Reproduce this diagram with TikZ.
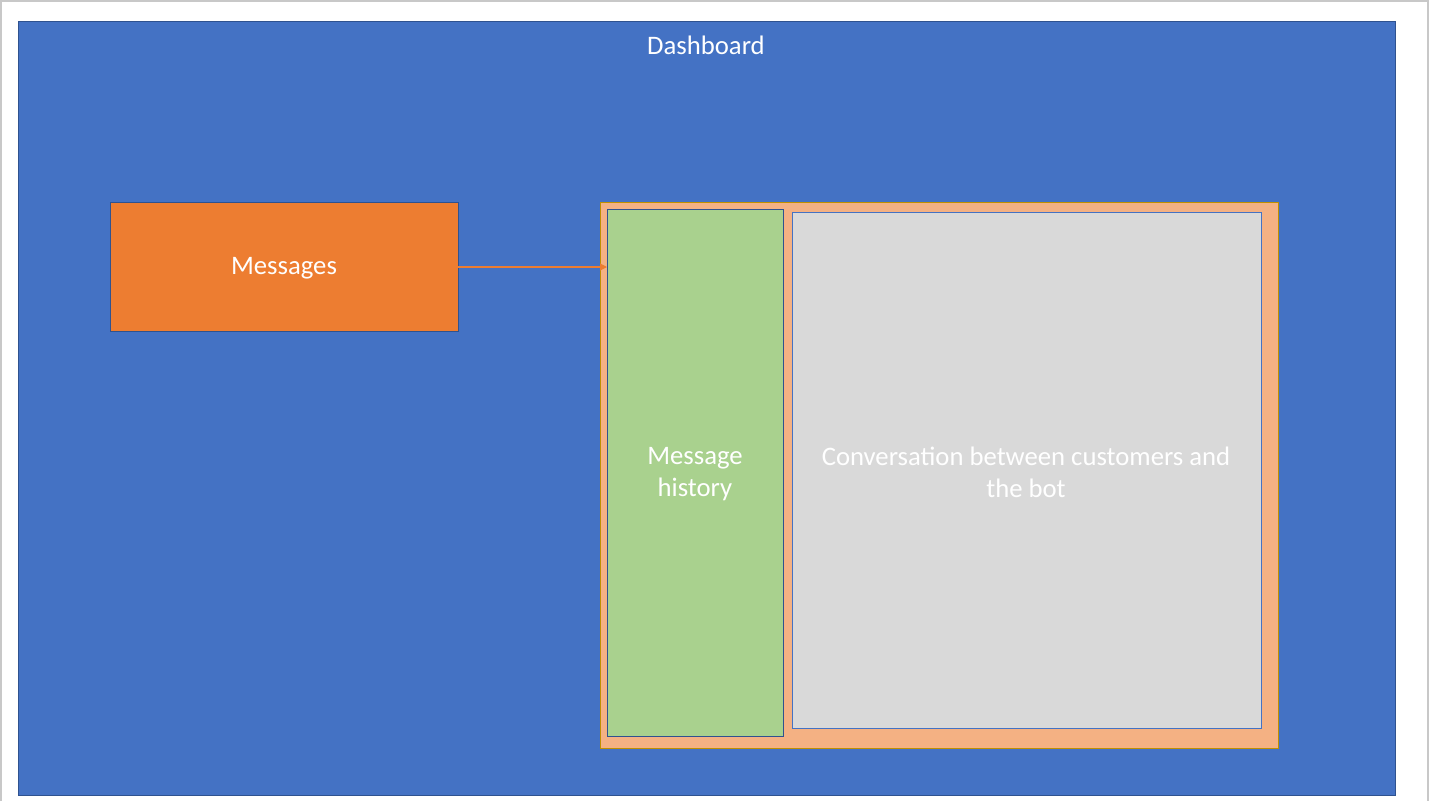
\documentclass[tikz,border=0pt]{standalone}
\usepackage{fontspec}
\setmainfont{Carlito}
\usetikzlibrary{arrows.meta}
\definecolor{dashblue}{HTML}{4472C4}
\definecolor{darkblue}{HTML}{2F528F}
\definecolor{msgorange}{HTML}{ED7D31}
\definecolor{peach}{HTML}{F4B183}
\definecolor{gold}{HTML}{BF9000}
\definecolor{lgreen}{HTML}{A9D18E}
\definecolor{lgray}{HTML}{D9D9D9}
\definecolor{frame}{HTML}{C8C8C8}
\tikzset{
  box/.style={draw=darkblue, line width=0.9pt},
  lbl/.style={text=white, font=\fontsize{26.7}{32}\selectfont, align=center},
}
\begin{document}
\begin{tikzpicture}[x=1pt,y=-1pt]
\useasboundingbox (0,0) rectangle (1430,801);
\fill[white] (0,0) rectangle (1430,801);
\draw[frame, line width=1.5pt] (1,801) -- (1,1) -- (1428,1) -- (1428,801);
\draw[box, fill=dashblue] (18,21) rectangle (1395,795);
\node[lbl] (dash) at (706,45) {Dashboard};
\draw[box, fill=msgorange] (110,202) rectangle (458,331);
\node[lbl] (msg) at (284,268) {Messages};
\coordinate (msgE) at (458,267);
\draw[draw=gold, line width=1pt, fill=peach] (600,202) rectangle (1278,748);
\draw[box, fill=lgreen] (607,209) rectangle (783,736);
\coordinate (hisW) at (607,267);
\node[lbl] (his) at (695,474) {Message\\history};
\draw[draw=dashblue, line width=0.9pt, fill=lgray] (792,212) rectangle (1261,728);
\node[lbl] (conv) at (1026,472) {Conversation between customers and\\the bot};
\draw[msgorange, line width=1.2pt, -{Triangle[length=7pt,width=7pt]}] (msgE) -- (hisW);
\end{tikzpicture}
\end{document}
